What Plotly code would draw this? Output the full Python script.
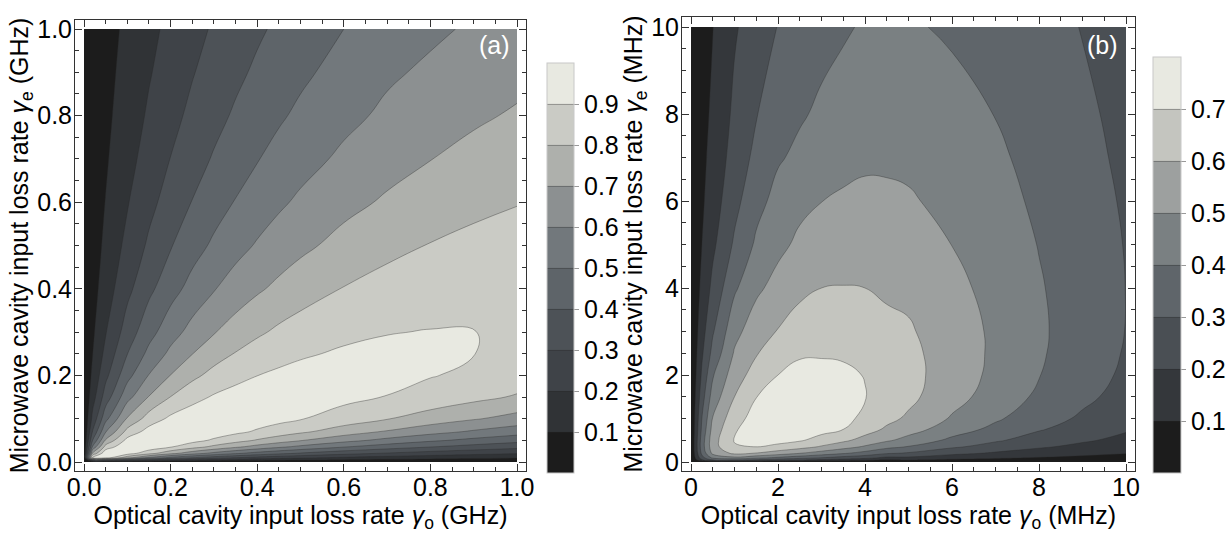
import numpy as np
import plotly.graph_objects as go

# ---------------- Panel (a): values ----------------
a_x = [0, 0.02, 0.05, 0.1, 0.15, 0.2, 0.25, 0.3, 0.35, 0.4, 0.45, 0.5, 0.6, 0.7, 0.8, 0.9, 1.0]
a_y = [0, 0.01, 0.02, 0.035, 0.05, 0.07, 0.1, 0.15, 0.2, 0.25, 0.3, 0.4, 0.5, 0.6, 0.7, 0.8, 0.9, 1.0]
# one list per x column (values along a_y)
a_cols = [
    [0] * 18,
    [0, 0.938, 0.716, 0.516, 0.401, 0.308, 0.228, 0.159, 0.123, 0.099, 0.084, 0.063, 0.051, 0.043, 0.037, 0.032, 0.029, 0.026],
    [0, 0.953, 0.976, 0.839, 0.713, 0.593, 0.470, 0.347, 0.275, 0.228, 0.194, 0.150, 0.122, 0.103, 0.089, 0.078, 0.070, 0.063],
    [0, 0.738, 0.948, 0.984, 0.930, 0.834, 0.709, 0.566, 0.467, 0.398, 0.346, 0.274, 0.227, 0.193, 0.168, 0.149, 0.134, 0.121],
    [0, 0.582, 0.835, 0.967, 0.982, 0.939, 0.845, 0.705, 0.604, 0.526, 0.465, 0.377, 0.316, 0.272, 0.239, 0.213, 0.192, 0.175],
    [0, 0.476, 0.730, 0.908, 0.969, 0.973, 0.920, 0.802, 0.702, 0.623, 0.559, 0.462, 0.393, 0.342, 0.302, 0.271, 0.245, 0.224],
    [0, 0.401, 0.643, 0.841, 0.932, 0.971, 0.955, 0.868, 0.775, 0.698, 0.634, 0.534, 0.460, 0.403, 0.359, 0.322, 0.294, 0.269],
    [0, 0.346, 0.572, 0.777, 0.886, 0.951, 0.965, 0.910, 0.832, 0.757, 0.694, 0.594, 0.517, 0.457, 0.409, 0.370, 0.338, 0.311],
    [0, 0.303, 0.514, 0.718, 0.838, 0.922, 0.961, 0.934, 0.872, 0.805, 0.743, 0.644, 0.567, 0.505, 0.455, 0.413, 0.379, 0.349],
    [0, 0.269, 0.465, 0.665, 0.791, 0.888, 0.948, 0.946, 0.899, 0.842, 0.784, 0.686, 0.609, 0.547, 0.495, 0.452, 0.416, 0.385],
    [0, 0.242, 0.425, 0.619, 0.747, 0.853, 0.929, 0.949, 0.917, 0.869, 0.818, 0.722, 0.646, 0.584, 0.532, 0.487, 0.450, 0.417],
    [0, 0.220, 0.390, 0.577, 0.706, 0.818, 0.906, 0.946, 0.928, 0.889, 0.844, 0.754, 0.678, 0.617, 0.564, 0.519, 0.481, 0.447],
    [0, 0.185, 0.334, 0.506, 0.633, 0.751, 0.856, 0.927, 0.933, 0.912, 0.879, 0.804, 0.732, 0.671, 0.619, 0.574, 0.535, 0.500],
    [0, 0.159, 0.291, 0.450, 0.571, 0.690, 0.805, 0.897, 0.924, 0.918, 0.897, 0.837, 0.773, 0.713, 0.663, 0.619, 0.585, 0.545],
    [0, 0.139, 0.257, 0.403, 0.518, 0.635, 0.756, 0.863, 0.905, 0.914, 0.903, 0.859, 0.804, 0.749, 0.698, 0.655, 0.617, 0.582],
    [0, 0.123, 0.230, 0.364, 0.473, 0.587, 0.709, 0.827, 0.881, 0.901, 0.901, 0.871, 0.825, 0.776, 0.729, 0.685, 0.647, 0.613],
    [0, 0.110, 0.207, 0.331, 0.434, 0.544, 0.665, 0.790, 0.855, 0.884, 0.892, 0.875, 0.838, 0.796, 0.752, 0.711, 0.672, 0.640],
]

# ---------------- Panel (b): values ----------------
b_x = [0, 0.25, 0.5, 1, 1.5, 2, 2.5, 3, 3.5, 4, 4.5, 5, 6, 7, 8, 9, 10]
b_y = [0, 0.05, 0.1, 0.2, 0.35, 0.5, 0.75, 1, 1.5, 2, 2.5, 3, 4, 5, 6, 7, 8, 10]
b_cols = [
    [0] * 18,
    [0, 0.191, 0.260, 0.323, 0.351, 0.347, 0.319, 0.300, 0.255, 0.215, 0.185, 0.160, 0.125, 0.100, 0.085, 0.075, 0.067, 0.056],
    [0, 0.308, 0.427, 0.523, 0.560, 0.560, 0.535, 0.505, 0.445, 0.390, 0.330, 0.290, 0.225, 0.180, 0.152, 0.133, 0.118, 0.098],
    [0, 0.330, 0.478, 0.621, 0.692, 0.705, 0.690, 0.665, 0.600, 0.555, 0.510, 0.470, 0.385, 0.315, 0.270, 0.240, 0.220, 0.189],
    [0, 0.287, 0.434, 0.595, 0.701, 0.740, 0.750, 0.735, 0.698, 0.640, 0.593, 0.555, 0.480, 0.415, 0.370, 0.325, 0.295, 0.250],
    [0, 0.248, 0.386, 0.551, 0.675, 0.733, 0.765, 0.765, 0.740, 0.700, 0.655, 0.605, 0.535, 0.475, 0.430, 0.390, 0.360, 0.303],
    [0, 0.220, 0.345, 0.500, 0.640, 0.710, 0.755, 0.768, 0.760, 0.725, 0.690, 0.650, 0.575, 0.520, 0.475, 0.420, 0.390, 0.330],
    [0, 0.189, 0.303, 0.456, 0.590, 0.666, 0.731, 0.755, 0.753, 0.725, 0.692, 0.658, 0.600, 0.544, 0.499, 0.455, 0.415, 0.372],
    [0, 0.160, 0.265, 0.410, 0.540, 0.620, 0.700, 0.725, 0.735, 0.715, 0.690, 0.665, 0.603, 0.555, 0.510, 0.478, 0.435, 0.390],
    [0, 0.143, 0.235, 0.364, 0.488, 0.565, 0.641, 0.679, 0.704, 0.697, 0.678, 0.655, 0.600, 0.555, 0.520, 0.485, 0.458, 0.409],
    [0, 0.100, 0.180, 0.310, 0.430, 0.515, 0.585, 0.625, 0.660, 0.668, 0.655, 0.625, 0.585, 0.550, 0.515, 0.487, 0.460, 0.415],
    [0, 0.110, 0.182, 0.288, 0.395, 0.466, 0.542, 0.585, 0.624, 0.632, 0.625, 0.611, 0.578, 0.543, 0.510, 0.480, 0.454, 0.409],
    [0, 0.084, 0.141, 0.226, 0.316, 0.378, 0.447, 0.490, 0.536, 0.551, 0.552, 0.547, 0.525, 0.499, 0.474, 0.449, 0.427, 0.389],
    [0, 0.070, 0.117, 0.186, 0.261, 0.313, 0.374, 0.414, 0.457, 0.477, 0.483, 0.483, 0.471, 0.452, 0.434, 0.416, 0.398, 0.366],
    [0, 0.058, 0.096, 0.152, 0.213, 0.257, 0.308, 0.343, 0.383, 0.403, 0.411, 0.414, 0.408, 0.397, 0.383, 0.370, 0.357, 0.331],
    [0, 0.049, 0.080, 0.126, 0.176, 0.213, 0.256, 0.285, 0.322, 0.341, 0.350, 0.354, 0.353, 0.347, 0.337, 0.327, 0.317, 0.297],
    [0, 0.041, 0.066, 0.104, 0.145, 0.175, 0.210, 0.235, 0.266, 0.284, 0.293, 0.298, 0.299, 0.296, 0.290, 0.282, 0.275, 0.260],
]

# colour bar levels and axis ticks
a_ticks = [0.1, 0.2, 0.3, 0.4, 0.5, 0.6, 0.7, 0.8, 0.9]
b_ticks = [0.1, 0.2, 0.3, 0.4, 0.5, 0.6, 0.7]
a_axis_ticks = [0, 0.2, 0.4, 0.6, 0.8, 1.0]
b_axis_ticks = [0, 2, 4, 6, 8, 10]

# band colours (gray tones), lowest band first
a_colors = ['#1c1c1c', '#303336', '#3f4348', '#4d5257', '#5e6469',
            '#72787c', '#8c9091', '#aeb0ac', '#cacbc5', '#e8e9e1']
b_colors = ['#1c1c1c', '#34373b', '#4a4f54', '#5f656a', '#7a8082',
            '#9da09f', '#c4c5bf', '#e8e9e1']

FONT = "Liberation Sans, Arial, sans-serif"
W, H = 1229, 533


def scale(cols):
    n = len(cols)
    return [[i / (n - 1), c] for i, c in enumerate(cols)]


za = np.array(a_cols).T
zb = np.array(b_cols).T

line_style = dict(width=0.8, color='rgba(40,40,40,0.45)', smoothing=1.3)


def cbar(x0, length, thick, ticks):
    return dict(x=x0 / W, xanchor='left', y=1 - 473 / H, yanchor='bottom',
                len=length, lenmode='pixels', thickness=thick, thicknessmode='pixels',
                xpad=0, ypad=0, outlinewidth=1, outlinecolor='#c8c8c8',
                tickmode='array', tickvals=ticks, ticktext=[f"{t:.1f}" for t in ticks],
                ticks='outside', ticklen=5, tickcolor='#999999',
                tickfont=dict(size=25, family=FONT, color='black'))


fig = go.Figure()
fig.add_trace(go.Contour(
    x=a_x, y=a_y, z=za, xaxis='x', yaxis='y',
    contours=dict(start=0.1, end=0.9, size=0.1, coloring='fill'),
    colorscale=scale(a_colors), zmin=0, zmax=1, zauto=False,
    line=line_style, hoverinfo='skip', colorbar=cbar(547, 410, 27, a_ticks),
))
fig.add_trace(go.Contour(
    x=b_x, y=b_y, z=zb, xaxis='x2', yaxis='y2',
    contours=dict(start=0.1, end=0.7, size=0.1, coloring='fill'),
    colorscale=scale(b_colors), zmin=0, zmax=0.8, zauto=False,
    line=line_style, hoverinfo='skip', colorbar=cbar(1153, 416, 28, b_ticks),
))


def axis(domain, rng, tickvals, fmt, minor_dtick, title, anchor, standoff, lab_off):
    return dict(
        domain=domain, range=rng, anchor=anchor, automargin=False,
        showline=True, linecolor='#333333', linewidth=1, mirror='allticks',
        ticks='inside', ticklen=7, tickwidth=1, tickcolor='#333333',
        tickmode='array', tickvals=tickvals, ticktext=[fmt.format(v) for v in tickvals],
        minor=dict(dtick=minor_dtick, tick0=0, ticks='inside', ticklen=4, tickcolor='#333333'),
        showgrid=False, zeroline=False, ticklabelstandoff=lab_off,
        tickfont=dict(size=25, family=FONT, color='black'),
        title=dict(text=title, font=dict(size=25, family=FONT, color='black'), standoff=standoff),
    )


pad_a = 9 / 433
pad_b = 9 / 43.5
fig.update_layout(
    width=W, height=H, margin=dict(l=0, r=0, t=0, b=0, pad=0),
    paper_bgcolor='white', plot_bgcolor='white', showlegend=False,
    xaxis=axis([75 / W, 526 / W], [-pad_a, 1 + pad_a], a_axis_ticks, "{:.1f}", 0.05,
               'Optical cavity input loss rate <i>γ</i><sub>o</sub> (GHz)', 'y', 8, -6),
    yaxis=axis([1 - 471 / H, 1 - 20 / H], [-pad_a, 1 + pad_a], a_axis_ticks, "{:.1f}", 0.05,
               'Microwave cavity input loss rate <i>γ</i><sub>e</sub> (GHz)', 'x', 1, -3),
    xaxis2=axis([682 / W, 1135 / W], [-pad_b, 10 + pad_b], b_axis_ticks, "{:d}", 0.5,
                'Optical cavity input loss rate <i>γ</i><sub>o</sub> (MHz)', 'y2', 8, -6),
    yaxis2=axis([1 - 471 / H, 1 - 17 / H], [-pad_b, 10 + 10 / 43.5], b_axis_ticks, "{:d}", 0.5,
                'Microwave cavity input loss rate <i>γ</i><sub>e</sub> (MHz)', 'x2', 1, -3),
    annotations=[
        dict(text='(a)', x=0.947, y=0.963, xref='x', yref='y', showarrow=False,
             font=dict(size=25, family=FONT, color='white')),
        dict(text='(b)', x=9.45, y=9.59, xref='x2', yref='y2', showarrow=False,
             font=dict(size=25, family=FONT, color='white')),
    ],
)

fig.write_html("out.html", config={'displayModeBar': False},
               post_script="document.body.style.margin='0px';")
